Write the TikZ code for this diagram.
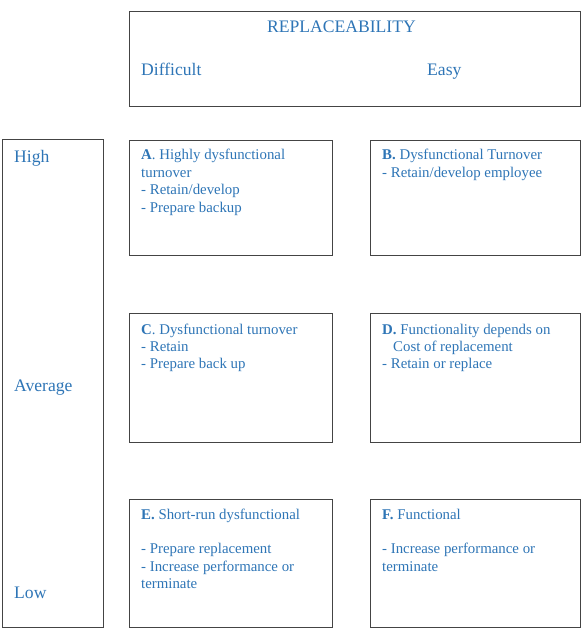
\documentclass[tikz,border=0pt]{standalone}
\usepackage{fontspec}
\setmainfont{Liberation Serif}
\definecolor{tblue}{RGB}{46,117,182}
\definecolor{framec}{RGB}{68,68,68}
\begin{document}
\begin{tikzpicture}[x=1pt,y=-1pt,
  box/.style={draw=framec,line width=1.2pt,rectangle,inner sep=0pt,anchor=north west},
  txt/.style={anchor=base west,inner sep=0pt,text=tblue,font=\fontsize{14.85}{17.4}\selectfont},
  hdr/.style={anchor=base west,inner sep=0pt,text=tblue,font=\fontsize{17.6}{21}\selectfont}]
\useasboundingbox (0,0) rectangle (586,636);
% frames
\node[box,minimum width=451pt,minimum height=95pt] (rep) at (129,11) {};
\node[box,minimum width=101pt,minimum height=488pt] (lvl) at (2,139) {};
\node[box,minimum width=203pt,minimum height=115pt] (bA) at (129,140) {};
\node[box,minimum width=210pt,minimum height=115pt] (bB) at (370,140) {};
\node[box,minimum width=203pt,minimum height=129pt] (bC) at (129,313) {};
\node[box,minimum width=210pt,minimum height=129pt] (bD) at (370,313) {};
\node[box,minimum width=203pt,minimum height=128pt] (bE) at (129,499) {};
\node[box,minimum width=210pt,minimum height=128pt] (bF) at (370,499) {};
% headers
\node[hdr] (trep) at (267,33) {REPLACEABILITY};
\node[hdr] (tdiff) at (141,76) {Difficult};
\node[hdr] (teasy) at (427,76) {Easy};
\node[hdr] (thigh) at (14,163) {High};
\node[hdr] (tavg) at (14,391) {Average};
\node[hdr] (tlow) at (14,598) {Low};
% cell texts
\node[txt] (tA) at (141,160) {\parbox[t]{185pt}{\raggedright\textbf{A}. Highly dysfunctional\\turnover\\- Retain/develop\\- Prepare backup}};
\node[txt] (tB) at (382,160) {\parbox[t]{195pt}{\raggedright\textbf{B.} Dysfunctional Turnover\\- Retain/develop employee}};
\node[txt] (tC) at (141,334) {\parbox[t]{185pt}{\raggedright\textbf{C}. Dysfunctional turnover\\- Retain\\- Prepare back up}};
\node[txt] (tD) at (382,334) {\parbox[t]{195pt}{\raggedright\textbf{D.} Functionality depends on\\\hspace*{11pt}Cost of replacement\\- Retain or replace}};
\node[txt] (tE) at (141,519) {\parbox[t]{185pt}{\raggedright\textbf{E.} Short-run dysfunctional\\\mbox{}\\- Prepare replacement\\- Increase performance or\\terminate}};
\node[txt] (tF) at (382,519) {\parbox[t]{195pt}{\raggedright\textbf{F.} Functional\\\mbox{}\\- Increase performance or\\terminate}};
\end{tikzpicture}
\end{document}
